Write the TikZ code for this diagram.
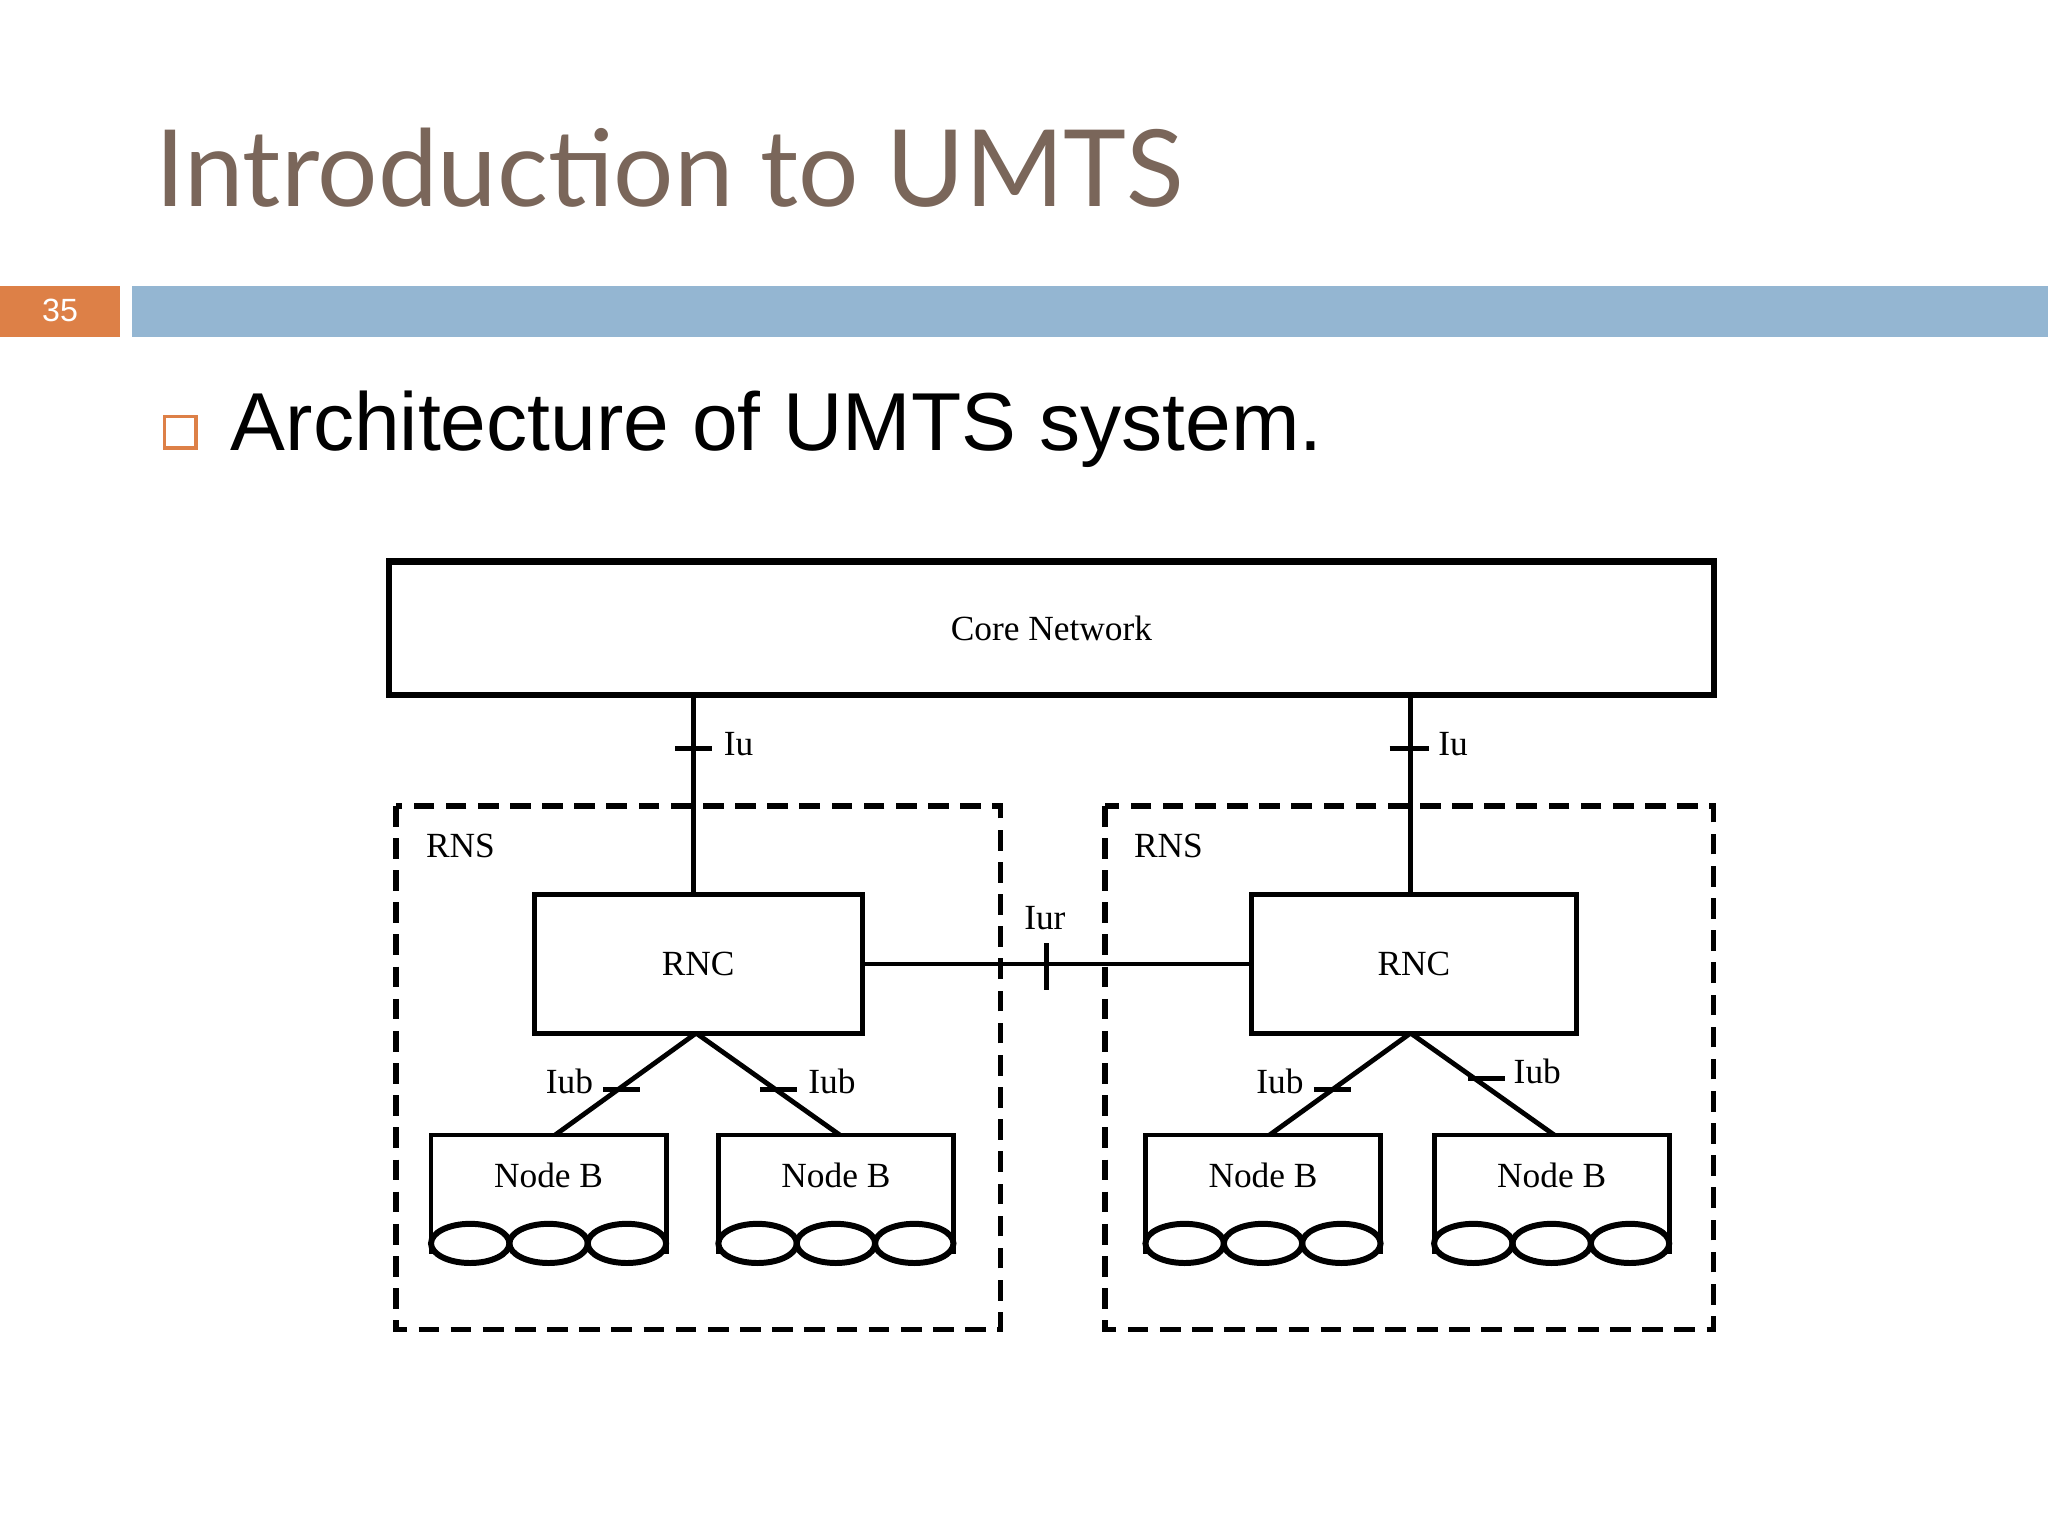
\documentclass[tikz,border=0pt]{standalone}
\usepackage{fontspec}
\setmainfont{Liberation Serif}
\newfontfamily\titlef{Lato}
\newfontfamily\arialf{Liberation Sans}
\definecolor{titlec}{HTML}{7A665A}
\definecolor{barblue}{HTML}{94B6D2}
\definecolor{orng}{HTML}{DD8047}
\begin{document}
\begin{tikzpicture}[x=0.01cm,y=-0.01cm,
  ln/.style={line width=1.05pt},
  box/.style={draw,line width=1.05pt,rectangle,inner sep=0pt},
  dbox/.style={draw,line width=1.2pt,dash pattern=on 4.5pt off 2.5pt},
  lab/.style={font=\fontsize{7.7}{9}\selectfont,inner sep=1pt},
  nb/.style={inner sep=0pt,minimum width=1.8cm,minimum height=0.9cm}]
\useasboundingbox (0,0) rectangle (1568,1176);
\fill[white] (0,0) rectangle (1568,1176);
\node[anchor=base west,text=titlec,font=\titlef\fontsize{23.2}{28}\selectfont,inner sep=0] (title) at (118,158) {Introduction to UMTS};
\fill[orng] (0,219) rectangle (92,258);
\node[text=white,font=\arialf\fontsize{7}{8}\selectfont] (num) at (46,238) {35};
\fill[barblue] (101,219) rectangle (1568,258);
\draw[orng,line width=0.8pt] (126,319) rectangle (150,343);
\node[anchor=base west,font=\arialf\fontsize{17.9}{22}\selectfont,inner sep=0] (sub) at (176,345) {Architecture of UMTS system.};
% core
\node[box,line width=1.4pt,minimum width=10.14cm,minimum height=1.02cm,lab] (core) at (805,481) {Core Network};
% RNS
\draw[dbox] (303,617) rectangle (766,1018);
\draw[dbox] (846,617) rectangle (1312,1018);
\node[lab,anchor=west] (rns1) at (322,648) {RNS};
\node[lab,anchor=west] (rns2) at (864,648) {RNS};
% RNC
\node[box,minimum width=2.51cm,minimum height=1.06cm,lab] (rnc1) at (534.5,738) {RNC};
\node[box,minimum width=2.49cm,minimum height=1.06cm,lab] (rnc2) at (1082.5,738) {RNC};
% Iu
\draw[ln] (531,532) -- (rnc1.north -| 531,0);
\draw[ln] (1080,532) -- (rnc2.north -| 1080,0);
\draw[ln] (517,573) -- (545,573);
\draw[ln] (1064,573) -- (1094,573);
\node[lab,anchor=west] (iu1) at (550,570) {Iu};
\node[lab,anchor=west] (iu2) at (1097,570) {Iu};
% Iur
\draw[ln] (rnc1.east) -- (rnc2.west);
\draw[ln] (801,722) -- (801,758);
\node[lab] (iur) at (800,703) {Iur};
% Node B
\foreach \n/\x in {a/420,b/640,c/967,d/1188}{
  \node[nb,lab] (\n) at (\x,900) {Node B};
  \draw[ln] (\x-90,960) -- (\x-90,869) -- (\x+90,869) -- (\x+90,960);
  \foreach \k in {-60,0,60} \draw[line width=1.3pt] (\x+\k,952) ellipse [x radius=30,y radius=15];
}
\coordinate (t1) at (533,791);
\coordinate (t2) at (1080,791);
\draw[ln] (t1) -- (425,869); \draw[ln] (t1) -- (643,869);
\draw[ln] (t2) -- (972,869); \draw[ln] (t2) -- (1190,869);
\draw[ln] (462,834) -- (490,834);
\draw[ln] (582,834) -- (610,834);
\draw[ln] (1006,834) -- (1034,834);
\draw[ln] (1124,826) -- (1152,826);
\node[lab] (iub1) at (436,828) {Iub};
\node[lab] (iub2) at (637,828) {Iub};
\node[lab] (iub3) at (980,828) {Iub};
\node[lab] (iub4) at (1177,820) {Iub};
\end{tikzpicture}
\end{document}
